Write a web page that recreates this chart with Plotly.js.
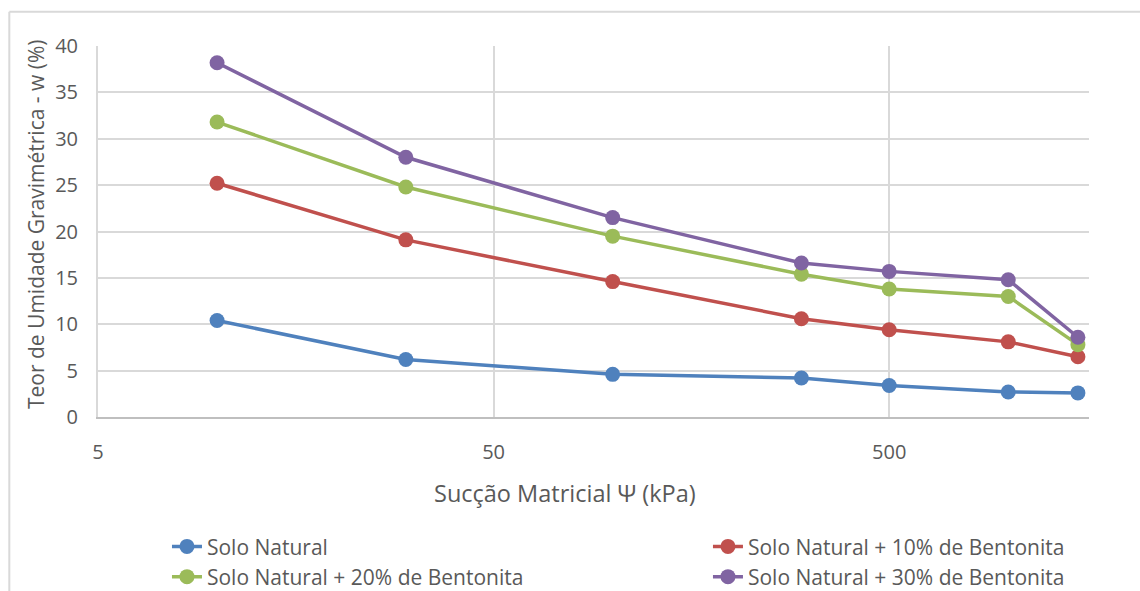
<!DOCTYPE html>
<html><head><meta charset="utf-8">
<script src="https://cdn.plot.ly/plotly-3.0.1.min.js"></script>
<style>html,body{margin:0;padding:0;background:#fff}#chart{width:1140px;height:591px}</style>
</head><body><div id="chart"></div>
<script>
const suction = [10, 30, 100, 300, 500, 1000, 1500];
const soloNatural = [10.4, 6.2, 4.6, 4.2, 3.4, 2.7, 2.6];
const bent10 = [25.2, 19.1, 14.6, 10.6, 9.4, 8.1, 6.5];
const bent20 = [31.8, 24.8, 19.5, 15.4, 13.8, 13.0, 7.8];
const bent30 = [38.2, 28.0, 21.5, 16.6, 15.7, 14.8, 8.6];
const seriesNames = ["Solo Natural", "Solo Natural + 10% de Bentonita", "Solo Natural + 20% de Bentonita", "Solo Natural + 30% de Bentonita"];
const seriesColors = ["#4F81BD", "#C0504D", "#9BBB59", "#8064A2"];
const legendOf = ["legend", "legend2", "legend", "legend2"];
const xTicks = [5, 50, 500];
const yTicks = [0, 5, 10, 15, 20, 25, 30, 35, 40];
const xTitle = "Sucção Matricial Ψ (kPa)";
const yTitle = "Teor de Umidade Gravimétrica - w (%)";

const font = "Open Sans, Noto Sans, sans-serif";
const txt = "#595959";
const ys = [soloNatural, bent10, bent20, bent30];
const traces = ys.map((y, i) => ({
  x: suction, y: y, name: seriesNames[i], type: "scatter", mode: "lines+markers",
  legend: legendOf[i],
  line: {color: seriesColors[i], width: 3.5},
  marker: {color: seriesColors[i], size: 15}
}));

const legendBase = {orientation: "v", yref: "container", y: 0.1096, yanchor: "top",
  xanchor: "left", font: {size: 21, color: txt, family: font}, traceorder: "normal",
  bgcolor: "rgba(0,0,0,0)", itemwidth: 30};

const layout = {
  width: 1140, height: 591,
  margin: {l: 98, r: 51, t: 46, b: 174},
  paper_bgcolor: "#fff", plot_bgcolor: "#fff",
  font: {family: font, color: txt, size: 17},
  showlegend: true,
  legend: Object.assign({}, legendBase, {x: 0.0696}),
  legend2: Object.assign({}, legendBase, {x: 0.6155}),
  xaxis: {type: "log", range: [Math.log10(5), Math.log10(1600)],
    tickvals: xTicks, ticktext: xTicks.map(String), ticks: "", ticklabelstandoff: 16,
    showgrid: true, gridcolor: "#D9D9D9", gridwidth: 2,
    showline: true, linecolor: "#BFBFBF", linewidth: 2, zeroline: false,
    tickfont: {size: 20, color: txt}},
  yaxis: {range: [0, 40], tickvals: yTicks, ticks: "", ticklabelstandoff: 14,
    showgrid: true, gridcolor: "#D9D9D9", gridwidth: 2,
    showline: true, linecolor: "#D9D9D9", linewidth: 2, zeroline: false,
    tickfont: {size: 20, color: txt}},
  annotations: [
    {text: xTitle, xref: "paper", yref: "paper", x: 0.471, y: -0.205, xanchor: "center", yanchor: "middle",
     showarrow: false, font: {size: 23.5, color: txt, family: font}},
    {text: yTitle, xref: "paper", yref: "paper", x: -0.0626, y: 0.52, xanchor: "center", yanchor: "middle",
     textangle: -90, showarrow: false, font: {size: 21, color: txt, family: font}}
  ],
  shapes: [
    {type: "line", xref: "paper", yref: "paper", x0: -0.0895, x1: 1.2, y0: 1.092, y1: 1.092, line: {color: "#D9D9D9", width: 2}},
    {type: "line", xref: "paper", yref: "paper", x0: -0.0895, x1: -0.0895, y0: 1.092, y1: -1, line: {color: "#D9D9D9", width: 2}}
  ]
};
Plotly.newPlot("chart", traces, layout, {displayModeBar: false, staticPlot: true});
</script></body></html>
